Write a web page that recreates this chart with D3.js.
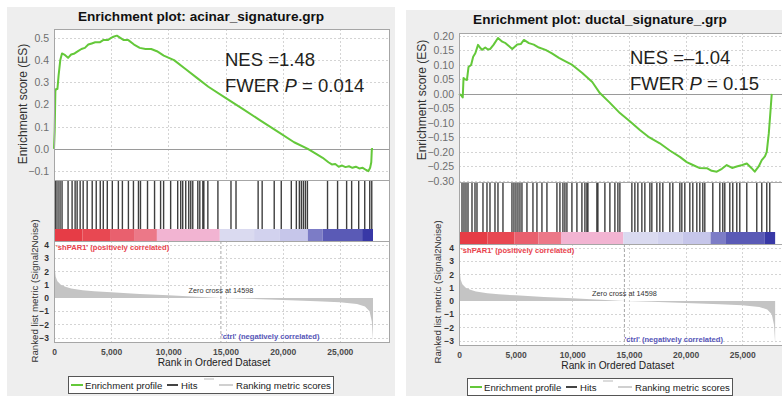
<!DOCTYPE html>
<html><head><meta charset="utf-8">
<script src="https://cdn.jsdelivr.net/npm/d3@7/dist/d3.min.js"></script>
<style>
body{margin:0;background:#fff;}
svg{display:block;font-family:"Liberation Sans",Arial,sans-serif;}
</style>
</head><body>
<svg id="c" width="782" height="396"></svg>
<script>
// ---------------- data ----------------
const rankTicks = [0, 5000, 10000, 15000, 20000, 25000];
const metricTicks = [-3, -2, -1, 0, 1, 2, 3, 4];
const zeroCross = 14598;

// ranked list metric (Signal2Noise), shared by both plots
const metricRanks  = [0, 20, 60, 150, 300, 600, 1000, 1500, 2500, 3500, 5000, 7500, 10000, 12500, 14598, 17000, 20000, 23000, 25000, 26500, 27200, 27600, 27800, 27900];
const metricValues = [4.3, 3.2, 2.3, 1.6, 1.25, 1.0, 0.85, 0.72, 0.58, 0.5, 0.42, 0.3, 0.2, 0.09, 0, -0.07, -0.15, -0.25, -0.33, -0.45, -0.65, -1.0, -1.8, -3.2];

// heat strip under the hits
const stripBreaks = [0, 2500, 4900, 7000, 9000, 14500, 17500, 19760, 22200, 23500, 26950, 27900];
const stripColors = ["#e63c46", "#e84852", "#e9606e", "#ec7888", "#f2b4d2", "#dadaf0", "#d2d2ee", "#c6c6ea", "#7c7cc6", "#5a5ab6", "#3838a6"];

// acinar signature
const acinarTitle = "Enrichment plot: acinar_signature.grp";
const acinarNES = "NES =1.48";
const acinarP = "0.014";
const acinarTicks = [-0.1, 0.0, 0.1, 0.2, 0.3, 0.4, 0.5];
const acinarRanks = [0, 60, 120, 180, 300, 400, 550, 700, 900, 1230, 1500, 1800, 2100, 2400, 2700, 3000, 3300, 3600, 4000, 4300, 4700, 5000, 5200, 5500, 5800, 6100, 6500, 7000, 7500, 8000, 8500, 9000, 9600, 10500, 11500, 12500, 13500, 15000, 16500, 18000, 19500, 21000, 22200, 23000, 23500, 24000, 24300, 24600, 24900, 25200, 25500, 25800, 26100, 26400, 26700, 27000, 27300, 27500, 27650, 27750, 27800, 27900];
const acinarES = [0, 0.08, 0.26, 0.27, 0.27, 0.33, 0.40, 0.43, 0.425, 0.41, 0.425, 0.43, 0.44, 0.45, 0.455, 0.47, 0.475, 0.48, 0.48, 0.49, 0.49, 0.50, 0.505, 0.51, 0.50, 0.49, 0.49, 0.47, 0.455, 0.45, 0.45, 0.44, 0.42, 0.40, 0.36, 0.32, 0.28, 0.23, 0.18, 0.13, 0.08, 0.03, 0.0, -0.025, -0.04, -0.06, -0.07, -0.068, -0.08, -0.075, -0.082, -0.078, -0.085, -0.08, -0.088, -0.085, -0.095, -0.10, -0.085, -0.06, 0.0, 0.0];
const acinarHits = [88, 176, 352, 528, 704, 1231, 1583, 1847, 2023, 2287, 2551, 2902, 3342, 3694, 4046, 4310, 4661, 5101, 5629, 5981, 6508, 6948, 7388, 7564, 8179, 8795, 9323, 9587, 10202, 10818, 11082, 11258, 11522, 11785, 11961, 12137, 12577, 12753, 13017, 13105, 13456, 14336, 15479, 15919, 17854, 18206, 19261, 19877, 20756, 21196, 21460, 21636, 21812, 21988, 22164, 23923, 24802, 25594, 26033, 26649, 27177, 27616, 27792];

// ductal signature
const ductalTitle = "Enrichment plot: ductal_signature_.grp";
const ductalNES = "NES =\u20131.04";
const ductalP = "0.15";
const ductalTicks = [-0.30, -0.25, -0.20, -0.15, -0.10, -0.05, 0.00, 0.05, 0.10, 0.15, 0.20];
const ductalRanks = [0, 200, 330, 400, 550, 700, 840, 1070, 1250, 1440, 1680, 1850, 2030, 2320, 2550, 2760, 3060, 3440, 3820, 4110, 4400, 4700, 5140, 5450, 5730, 6170, 6600, 7050, 7640, 8200, 8820, 9400, 10000, 10880, 11760, 12430, 13300, 14200, 15100, 15960, 16800, 17720, 18600, 19490, 20100, 20640, 21200, 21870, 22300, 22750, 23200, 23630, 24100, 24510, 25000, 25400, 25800, 26100, 26450, 26720, 27000, 27160, 27340, 27450, 27600];
const ductalES = [0, -0.005, -0.012, 0.055, 0.05, 0.048, 0.093, 0.10, 0.128, 0.14, 0.169, 0.16, 0.152, 0.16, 0.153, 0.155, 0.17, 0.193, 0.18, 0.175, 0.165, 0.155, 0.17, 0.172, 0.186, 0.175, 0.17, 0.16, 0.152, 0.14, 0.124, 0.112, 0.1, 0.072, 0.041, 0.003, -0.03, -0.066, -0.095, -0.124, -0.15, -0.17, -0.195, -0.217, -0.235, -0.245, -0.255, -0.256, -0.265, -0.268, -0.258, -0.245, -0.255, -0.25, -0.245, -0.24, -0.255, -0.268, -0.25, -0.228, -0.215, -0.2, -0.136, -0.08, 0.0];
const ductalHits = [265, 441, 617, 794, 1146, 1411, 1587, 2116, 2469, 2734, 3175, 3439, 3880, 4674, 4850, 5026, 5203, 5379, 5556, 5996, 6526, 6878, 7319, 7760, 8642, 8907, 9171, 9347, 9524, 9965, 10406, 10847, 11111, 11287, 11376, 12169, 12257, 12875, 13316, 13757, 14021, 14198, 15256, 15520, 15785, 16138, 16402, 16843, 17019, 17460, 17725, 17989, 18607, 18871, 19489, 19665, 19929, 20370, 20635, 20988, 21252, 21517, 21693, 22399, 23016, 23280, 23457, 23898, 24162, 24515, 24780, 25397, 26279, 26720, 27161, 27425];

const legendItems = ["Enrichment profile", "Hits", "Ranking metric scores"];

// ---------------- drawing ----------------
const svg = d3.select("#c");
const GREEN = "#64c83a";

function panel(c) {
  const g = svg.append("g");
  g.append("rect").attr("x", c.bg[0]).attr("y", c.bg[1]).attr("width", c.bg[2]).attr("height", c.bg[3]).attr("fill", "#eeeeee");

  const x = d3.scaleLinear().domain([0, 29300]).range([c.x0, c.x1]);
  const yES = d3.scaleLinear().domain(c.esDomain).range([c.esBottom, c.esTop]);
  const yM = d3.scaleLinear().domain([-3.33, 4.3]).range([c.mBottom, c.mTop]);

  // white plot areas
  g.append("rect").attr("x", c.x0).attr("y", c.esTop).attr("width", c.x1 - c.x0).attr("height", c.mBottom - c.esTop).attr("fill", "#fff");

  // title
  g.append("text").attr("x", c.titleX).attr("y", c.titleY).attr("text-anchor", "middle")
    .attr("font-size", 13.6).attr("font-weight", "bold").attr("fill", "#111").text(c.title);

  // grid
  const grid = g.append("g").attr("stroke", "#d4d4d4").attr("stroke-dasharray", "2,2").attr("stroke-width", 1);
  c.esTicks.forEach(t => {
    if (Math.abs(t) < 1e-9) return;
    grid.append("line").attr("x1", c.x0).attr("x2", c.x1).attr("y1", Math.round(yES(t)) + 0.5).attr("y2", Math.round(yES(t)) + 0.5);
  });
  rankTicks.slice(1).forEach(t => {
    grid.append("line").attr("x1", Math.round(x(t)) + 0.5).attr("x2", Math.round(x(t)) + 0.5).attr("y1", c.esTop).attr("y2", c.esBottom);
    grid.append("line").attr("x1", Math.round(x(t)) + 0.5).attr("x2", Math.round(x(t)) + 0.5).attr("y1", c.mTop).attr("y2", c.mBottom);
  });
  metricTicks.forEach(t => {
    if (t === 0) return;
    grid.append("line").attr("x1", c.x0).attr("x2", c.x1).attr("y1", Math.round(yM(t)) + 0.5).attr("y2", Math.round(yM(t)) + 0.5);
  });

  // ES zero line
  g.append("line").attr("x1", c.x0).attr("x2", c.x1).attr("y1", Math.round(yES(0)) + 0.5).attr("y2", Math.round(yES(0)) + 0.5)
    .attr("stroke", "#9a9a9a").attr("stroke-width", 1);

  // ES curve
  const esPts = c.ranks.map((r, i) => [r, c.es[i]]);
  g.append("path").datum(esPts)
    .attr("d", d3.line().x(d => x(d[0])).y(d => yES(d[1])))
    .attr("fill", "none").attr("stroke", GREEN).attr("stroke-width", 2).attr("stroke-linejoin", "round");

  // ES axis labels
  const esAxis = g.append("g").attr("transform", `translate(${c.x0 - 1},0)`)
    .call(d3.axisLeft(yES).tickValues(c.esTicks).tickFormat(d3.format(c.esFmt)).tickSize(0).tickPadding(4));
  esAxis.select(".domain").remove();
  esAxis.selectAll("text").attr("font-size", 10.5).attr("fill", "#6e6e6e").attr("font-family", "Liberation Sans, Arial, sans-serif");

  // y labels
  g.append("text").attr("transform", `translate(${c.esLabelX},${c.esLabelY}) rotate(-90)`).attr("text-anchor", "middle")
    .attr("dy", "0.35em").attr("font-size", 12).attr("fill", "#333").text("Enrichment score (ES)");
  g.append("text").attr("transform", `translate(${c.mLabelX},${c.mLabelY}) rotate(-90)`).attr("text-anchor", "middle")
    .attr("dy", "0.35em").attr("font-size", 9.7).attr("fill", "#333").text("Ranked list metric (Signal2Noise)");

  // NES annotation
  g.append("text").attr("x", c.nesX).attr("y", c.nesY).attr("font-size", 18.5).attr("fill", "#231f20").text(c.nes);
  const fw = g.append("text").attr("x", c.nesX).attr("y", c.nesY + 26).attr("font-size", 18.5).attr("fill", "#231f20");
  fw.append("tspan").text("FWER ");
  fw.append("tspan").attr("font-style", "italic").text("P");
  fw.append("tspan").text(" = " + c.p);

  // hits
  const hitTop = c.esBottom + 1, stripTop = c.stripTop, stripBot = c.mTop;
  g.append("g").selectAll("line").data(c.hits).join("line")
    .attr("x1", d => x(d)).attr("x2", d => x(d)).attr("y1", hitTop).attr("y2", stripTop)
    .attr("stroke", "#1c1c1c").attr("stroke-width", 1.4).attr("stroke-opacity", 0.85);

  // heat strip
  g.append("g").selectAll("rect").data(stripColors).join("rect")
    .attr("x", (d, i) => x(stripBreaks[i])).attr("width", (d, i) => x(stripBreaks[i + 1]) - x(stripBreaks[i]))
    .attr("y", stripTop).attr("height", stripBot - stripTop).attr("fill", d => d);

  // ranked metric area
  const mPts = metricRanks.map((r, i) => [r, metricValues[i]]);
  g.append("path").datum(mPts)
    .attr("d", d3.area().x(d => x(d[0])).y0(yM(0)).y1(d => yM(d[1])))
    .attr("fill", "#c4c4c4");

  // zero cross line
  g.append("line").attr("x1", x(zeroCross)).attr("x2", x(zeroCross)).attr("y1", c.mTop).attr("y2", c.mBottom)
    .attr("stroke", "#a8a8a8").attr("stroke-dasharray", "3,2");

  // frames
  const fr = g.append("g").attr("fill", "none").attr("stroke", "#a6a6a6").attr("stroke-width", 1);
  fr.append("rect").attr("x", c.x0 + 0.5).attr("y", c.esTop + 0.5).attr("width", c.x1 - c.x0).attr("height", c.esBottom - c.esTop);
  fr.append("rect").attr("x", c.x0 + 0.5).attr("y", c.esBottom + 0.5).attr("width", c.x1 - c.x0).attr("height", c.mTop - c.esBottom);
  fr.append("rect").attr("x", c.x0 + 0.5).attr("y", c.mTop + 0.5).attr("width", c.x1 - c.x0).attr("height", c.mBottom - c.mTop);

  // metric axis labels
  const mAxis = g.append("g").attr("transform", `translate(${c.x0 - 1},0)`)
    .call(d3.axisLeft(yM).tickValues(metricTicks).tickFormat(d3.format("d")).tickSize(0).tickPadding(4));
  mAxis.select(".domain").remove();
  mAxis.selectAll("text").attr("font-size", 8.5).attr("font-weight", "bold").attr("fill", "#333").attr("font-family", "Liberation Sans, Arial, sans-serif");

  // x axis labels
  const xAxis = g.append("g").attr("transform", `translate(0,${c.mBottom})`)
    .call(d3.axisBottom(x).tickValues(rankTicks).tickFormat(d3.format(",")).tickSize(0).tickPadding(7));
  xAxis.select(".domain").remove();
  xAxis.selectAll("text").attr("font-size", 8.5).attr("font-weight", "bold").attr("fill", "#4a4a4a").attr("font-family", "Liberation Sans, Arial, sans-serif");
  g.append("text").attr("x", x(14000)).attr("y", c.xLabelY).attr("text-anchor", "middle")
    .attr("font-size", 10.2).attr("fill", "#222").text("Rank in Ordered Dataset");

  // annotations
  g.append("text").attr("x", c.x0 + 2).attr("y", c.mTop + 9).attr("font-size", 7.6).attr("font-weight", "bold")
    .attr("fill", "#e8424c").text("'shPAR1' (positively correlated)");
  g.append("text").attr("x", x(zeroCross)).attr("y", c.mBottom - 3).attr("font-size", 7.6).attr("font-weight", "bold")
    .attr("fill", "#5656b8").text("'ctrl' (negatively correlated)");
  g.append("text").attr("x", x(zeroCross)).attr("y", yM(0) - 5).attr("text-anchor", "middle").attr("font-size", 7.3)
    .attr("fill", "#333").text("Zero cross at " + zeroCross);

  // legend
  const L = g.append("g").attr("transform", `translate(${c.legX},${c.legY})`);
  L.append("rect").attr("x", 0.5).attr("y", 0.5).attr("width", 265).attr("height", 17).attr("fill", "#fff").attr("stroke", "#555");
  L.append("line").attr("x1", 3).attr("x2", 15).attr("y1", 9).attr("y2", 9).attr("stroke", GREEN).attr("stroke-width", 2);
  L.append("text").attr("x", 17).attr("y", 12.5).attr("font-size", 9.6).attr("fill", "#222").text(legendItems[0]);
  L.append("line").attr("x1", 99).attr("x2", 110).attr("y1", 9).attr("y2", 9).attr("stroke", "#444").attr("stroke-width", 2);
  L.append("text").attr("x", 113).attr("y", 12.5).attr("font-size", 9.6).attr("fill", "#222").text(legendItems[1]);
  L.append("rect").attr("x", 136).attr("y", 2).attr("width", 10).attr("height", 2).attr("fill", "#dcdcdc");
  L.append("line").attr("x1", 151).attr("x2", 165).attr("y1", 9).attr("y2", 9).attr("stroke", "#d0d0d0").attr("stroke-width", 2);
  L.append("text").attr("x", 168).attr("y", 12.5).attr("font-size", 9.6).attr("fill", "#222").text(legendItems[2]);
}

panel({
  bg: [7, 7, 388, 389], title: acinarTitle, titleX: 201, titleY: 21,
  x0: 54, x1: 389,
  esTop: 29, esBottom: 180, esDomain: [-0.14, 0.54], esTicks: acinarTicks, esFmt: ".1f",
  stripTop: 229, mTop: 241, mBottom: 342,
  ranks: acinarRanks, es: acinarES, hits: acinarHits,
  nes: acinarNES, p: acinarP, nesX: 225, nesY: 66,
  esLabelX: 23, esLabelY: 104, mLabelX: 35, mLabelY: 291,
  xLabelY: 366, legX: 68, legY: 376
});

panel({
  bg: [406, 10, 390, 386], title: ductalTitle, titleX: 600, titleY: 24,
  x0: 459, x1: 791,
  esTop: 33, esBottom: 182, esDomain: [-0.3035, 0.21], esTicks: ductalTicks, esFmt: ".2f",
  stripTop: 232, mTop: 244, mBottom: 345,
  ranks: ductalRanks, es: ductalES, hits: ductalHits,
  nes: ductalNES, p: ductalP, nesX: 630, nesY: 64,
  esLabelX: 422, esLabelY: 100, mLabelX: 438, mLabelY: 292,
  xLabelY: 369, legX: 467, legY: 378
});
</script>
</body></html>
